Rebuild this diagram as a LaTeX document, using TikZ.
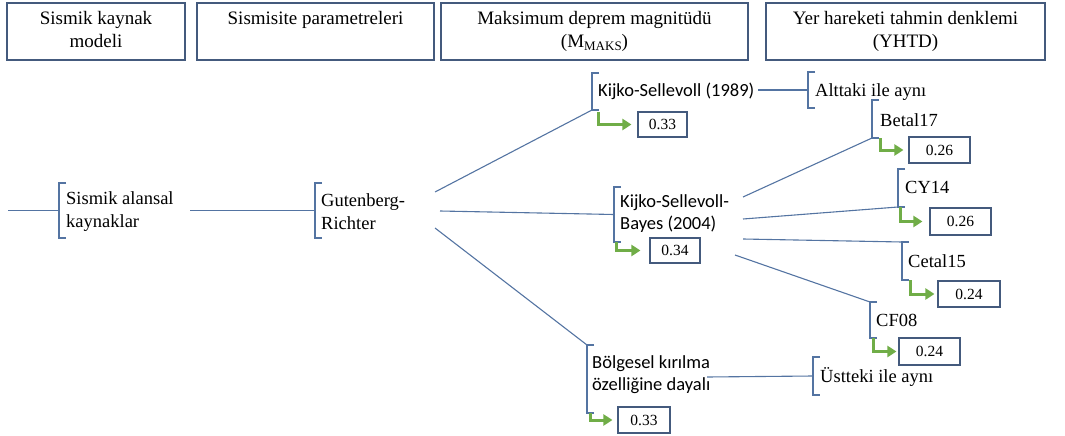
\documentclass[tikz,border=0pt]{standalone}
\usepackage{fontspec}
\setmainfont{Liberation Serif}
\newfontfamily\calib{Carlito}
\usetikzlibrary{arrows.meta}
\definecolor{lineblue}{RGB}{84,116,162}
\definecolor{boxblue}{RGB}{68,90,125}
\definecolor{arrgreen}{RGB}{112,173,71}
\tikzset{
  hdrbox/.style={draw=boxblue,line width=1.3pt,inner sep=0pt},
  hdrtext/.style={inner sep=0pt,text height=13pt,text depth=4pt,font=\fontsize{19}{23}\selectfont},
  lbl/.style={anchor=west,align=left,inner sep=0pt,font=\fontsize{18.5}{23}\selectfont},
  slbl/.style={anchor=west,align=left,inner sep=0pt,font=\calib\fontsize{18.5}{22}\selectfont},
  numbox/.style={draw=boxblue,line width=1.1pt,inner sep=0pt,font=\fontsize{15.5}{18}\selectfont},
  conn/.style={draw=lineblue,line width=1.1pt},
  brk/.style={draw=lineblue,line width=1.1pt},
  garrow/.style={draw=arrgreen,line width=3pt,-{Triangle[length=9pt,width=11pt]}},
}
\newcommand\mybracket[4]{% name, x, top, bottom
  \coordinate (#1-t) at (#2,#3);
  \coordinate (#1-b) at (#2,#4);
  \coordinate (#1-m) at (#2,{(#3+#4)/2});
  \draw[brk] ([xshift=7pt]#1-t) -- (#1-t) -- (#1-b) -- ([xshift=7pt]#1-b);
}
\begin{document}
\begin{tikzpicture}[x=1pt,y=-1pt]
\useasboundingbox (0,0) rectangle (1065,436);
% header boxes
\node[hdrbox,minimum width=178pt,minimum height=57pt] (h1) at (96,31.5) {};
\node[hdrbox,minimum width=237pt,minimum height=57pt] (h2) at (315.5,31.5) {};
\node[hdrbox,minimum width=307pt,minimum height=57pt] (h3) at (594.5,31.5) {};
\node[hdrbox,minimum width=279pt,minimum height=57pt] (h4) at (905.5,31.5) {};
\node[hdrtext] (t1a) at (96,20) {Sismik kaynak};
\node[hdrtext] (t1b) at (96,43) {modeli};
\node[hdrtext] (t2) at (315.5,20) {Sismisite parametreleri};
\node[hdrtext] (t3a) at (594.5,20) {Maksimum deprem magnitüdü};
\node[hdrtext] (t3b) at (594.5,43) {(M\raisebox{-0.35ex}{\fontsize{13}{15}\selectfont MAKS})};
\node[hdrtext] (t4a) at (905.5,20) {Yer hareketi tahmin denklemi};
\node[hdrtext] (t4b) at (905.5,43) {(YHTD)};

% brackets
\mybracket{sak}{59}{183}{238}
\mybracket{gr}{315}{183}{238}
\mybracket{ks}{592}{73}{110}
\mybracket{ksb}{614}{187}{242}
\mybracket{bk}{587}{345}{413}
\mybracket{alt}{808}{72}{108}
\mybracket{ust}{813}{357}{395}
\mybracket{be}{872}{100}{138}
\mybracket{cy}{898}{169}{207}
\mybracket{ce}{902}{242}{280}
\mybracket{cf}{870}{302}{338}

% labels
\node[lbl] (sakT) at (66,211.5) {Sismik alansal\\kaynaklar};
\node[lbl] (grT) at (321,211.5) {Gutenberg-\\Richter};
\node[slbl] (ksT) at (598,91) {Kijko-Sellevoll (1989)};
\node[slbl] (ksbT) at (620,214) {Kijko-Sellevoll-\\Bayes (2004)};
\node[slbl] (bkT) at (592,374.5) {Bölgesel kırılma\\özelliğine dayalı};
\node[lbl] (altT) at (815,92) {Alttaki ile aynı};
\node[lbl] (ustT) at (820,377) {Üstteki ile aynı};
\node[lbl] (beT) at (880,120) {Betal17};
\node[lbl] (cyT) at (905,187) {CY14};
\node[lbl] (ceT) at (908,261) {Cetal15};
\node[lbl] (cfT) at (876,320) {CF08};

% number boxes
\node[numbox,minimum width=49pt,minimum height=25pt] (n1) at (662.5,124.5) {0.33};
\node[numbox,minimum width=50pt,minimum height=25pt] (n2) at (675,250.5) {0.34};
\node[numbox,minimum width=52pt,minimum height=26pt] (n3) at (644,420) {0.33};
\node[numbox,minimum width=61pt,minimum height=26pt] (n4) at (939.5,150) {0.26};
\node[numbox,minimum width=61pt,minimum height=27pt] (n5) at (960.5,221.5) {0.26};
\node[numbox,minimum width=62pt,minimum height=26pt] (n6) at (969,294) {0.24};
\node[numbox,minimum width=61pt,minimum height=27pt] (n7) at (929.5,351.5) {0.24};

% green arrows
\draw[garrow] (598,112) |- ([xshift=-6pt]n1.west);
\draw[garrow] (616,242) |- ([xshift=-9pt]n2.west);
\draw[garrow] (590,413) |- ([xshift=-5pt]n3.west);
\draw[garrow] (880,138) |- ([xshift=-5pt]n4.west);
\draw[garrow] (900,207) |- ([xshift=-7pt]n5.west);
\draw[garrow] (910,280) |- ([xshift=-3pt]n6.west);
\draw[garrow] (873,338) |- ([xshift=-2pt]n7.west);

% connectors
\coordinate (start) at (8,210.5);
\draw[conn] (start) -- (sak-m);
\coordinate (sakE) at (190,210.5);
\draw[conn] (sakE) -- (gr-m);
\coordinate (grA) at (435,192);
\coordinate (grB) at (440,211);
\coordinate (grC) at (435,228);
\draw[conn] (grA) -- (ks-b);
\draw[conn] (grB) -- (ksb-m);
\draw[conn] (grC) -- (bk-t);
\coordinate (ksE) at (758,90);
\draw[conn] (ksE) -- (alt-m);
\coordinate (ksbA) at (743,197);
\coordinate (ksbB) at (743,219);
\coordinate (ksbC) at (743,239);
\coordinate (ksbD) at (735,255);
\draw[conn] (ksbA) -- (be-b);
\draw[conn] (ksbB) -- (cy-b);
\draw[conn] (ksbC) -- (ce-t);
\draw[conn] (ksbD) -- (cf-t);
\coordinate (bkE) at (707,377);
\draw[conn] (bkE) -- (ust-m);
\end{tikzpicture}
\end{document}
